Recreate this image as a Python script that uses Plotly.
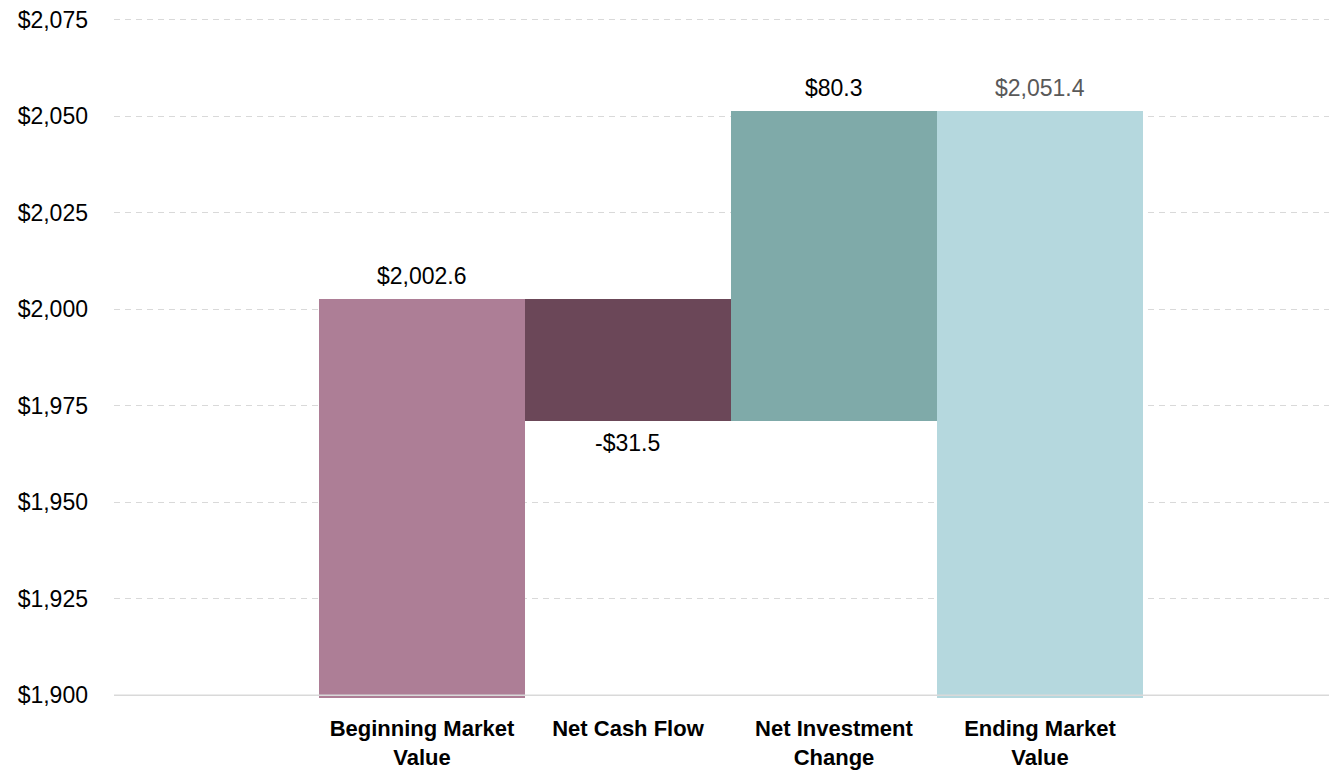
import plotly.graph_objects as go

categories = ["Beginning Market<br>Value", "Net Cash Flow", "Net Investment<br>Change", "Ending Market<br>Value"]
changes = [2002.6, -31.5, 80.3, 2051.4]
kinds = ["total", "delta", "delta", "total"]
label_texts = ["$2,002.6", "-$31.5", "$80.3", "$2,051.4"]
colors = ["#AD7E96", "#6B4758", "#7FAAA9", "#B5D8DE"]
label_colors = ["#000000", "#000000", "#000000", "#595959"]
y_ticks = [1900, 1925, 1950, 1975, 2000, 2025, 2050, 2075]
y_min = 1899.3
y_max = 2075.4

FONT = "Liberation Sans Narrow, Arial Narrow, Liberation Sans, Arial, sans-serif"

# compute bases / tops from data
bases, heights = [], []
running = 0.0
for k, v in zip(kinds, changes):
    if k == "total":
        base = y_min
        top = v
        running = v
    else:
        start = running
        running = running + v
        base = min(start, running)
        top = max(start, running)
    bases.append(base)
    heights.append(top - base)

fig = go.Figure()
fig.add_trace(go.Bar(
    x=list(range(len(categories))), y=heights, base=bases,
    marker=dict(color=colors, line=dict(width=0)),
    hoverinfo="skip", showlegend=False,
))

running = 0.0
for i, (k, v) in enumerate(zip(kinds, changes)):
    if k == "total":
        y = v
        running = v
        shift = 23
    else:
        running = running + v
        y = running
        shift = -22 if v < 0 else 23
    fig.add_annotation(x=i, y=y, text=label_texts[i], showarrow=False,
                       yshift=shift, font=dict(family=FONT, size=23, color=label_colors[i]))

fig.add_shape(type="line", xref="paper", x0=0, x1=1, yref="y", y0=1900, y1=1900,
              line=dict(color="#D9D9D9", width=1.5), layer="above")

fig.update_layout(
    width=1329, height=774,
    margin=dict(l=114, r=0, t=17.5, b=76.3, autoexpand=False),
    paper_bgcolor="white", plot_bgcolor="white",
    bargap=0,
    font=dict(family=FONT, size=18, color="#000000"),
    xaxis=dict(
        tickmode="array", tickvals=list(range(len(categories))),
        ticktext=["<b>" + c + "</b>" for c in categories],
        range=[-1.495, 4.403], showgrid=False, zeroline=False, showline=False,
        tickfont=dict(family=FONT, size=22, color="#000000"),
        ticks="", ticklabelstandoff=15, automargin=False,
    ),
    yaxis=dict(
        range=[y_min, y_max], tickmode="array", tickvals=y_ticks,
        ticktext=["${:,}".format(t) for t in y_ticks],
        showgrid=True, gridcolor="#D9D9D9", griddash="6px,5px", gridwidth=1,
        zeroline=False, showline=False, ticks="", ticklabelstandoff=25,
        tickfont=dict(family=FONT, size=23, color="#000000"), automargin=False,
    ),
)

fig.write_html("out.html", config={"displayModeBar": False},
               post_script="document.body.style.margin='0';document.body.style.overflow='hidden';")
